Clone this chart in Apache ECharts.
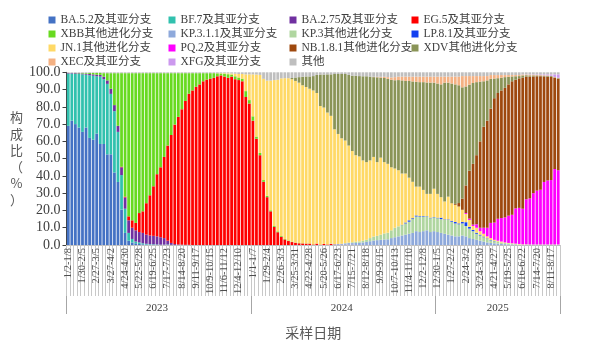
<!DOCTYPE html>
<html><head><meta charset="utf-8">
<script src="https://cdn.jsdelivr.net/npm/echarts@6/dist/echarts.min.js"></script>
<style>html,body{margin:0;padding:0;background:#fff}#c{width:600px;height:345px}</style>
</head><body><div id="c"></div>
<script>
// tick labels shown on the category axis (every 4th week)
const tickLabels = [
 '1/2-1/8','1/30-2/5','2/27-3/5','3/27-4/2','4/24-4/30','5/22-5/28','6/19-6/25','7/17-7/23','8/14-8/20','9/11-9/17','10/9-10/15','11/6-11/12','12/4-12/10',
 '1/1-1/7','1/29-2/4','2/26-3/3','3/25-3/31','4/22-4/28','5/20-5/26','6/17-6/23','7/15-7/21','8/12-8/18','9/9-9/15','10/7-10/13','11/4-11/10','12/2-12/8',
 '12/30-1/5','1/27-2/2','2/24-3/2','3/24-3/30','4/21-4/27','5/19-5/25','6/16-6/22','7/14-7/20','8/11-8/17'
];
const weekCount = 139;
const yearNames = ['2023','2024','2025'];
const yearLabelIndex = [25, 77, 121];
const yearStartIndex = [0, 52, 104];

const seriesNames = ['BA.5.2及其亚分支','BF.7及其亚分支','BA.2.75及其亚分支','EG.5及其亚分支','XBB其他进化分支',
 'KP.3.1.1及其亚分支','KP.3其他进化分支','LP.8.1及其亚分支','JN.1其他进化分支','PQ.2及其亚分支',
 'NB.1.8.1其他进化分支','XDV其他进化分支','XEC及其亚分支','XFG及其亚分支','其他'];

const ba52 = [
 69,72,70,68,65.5,68,62,61,64.5,58.5,
 58.5,52.5,52.5,42,36.5,20.5,7,2.5,1.5,1,
 0.6,0.4,0.3,0.2,0.1,0.1,0.1,0.1,0,0,
 0,0,0,0,0,0,0,0,0,0, 0,0,0,0,0,0,0,0,0,0, 0,0,0,0,0,0,0,0,0,0, 0,0,0,0,0,0,0,0,0,0,
 0,0,0,0,0,0,0,0,0,0, 0,0,0,0,0,0,0,0,0,0, 0,0,0,0,0,0,0,0,0,0, 0,0,0,0,0,0,0,0,0,0,
 0,0,0,0,0,0,0,0,0,0, 0,0,0,0,0,0,0,0,0,0, 0,0,0,0,0,0,0,0,0];
const bf7 = [
 30.3,27.3,29.1,31.0,33.3,30.6,36.3,37.0,33.2,39.0,
 37.5,40.8,35.0,35.5,29.0,20.0,14,4.5,2,1,
 0.9,0.6,0.4,0.3,0.3,0.2,0.1,0.1,0.3,0.1,
 0,0,0,0,0,0,0,0,0,0, 0,0,0,0,0,0,0,0,0,0, 0,0,0,0,0,0,0,0,0,0, 0,0,0,0,0,0,0,0,0,0,
 0,0,0,0,0,0,0,0,0,0, 0,0,0,0,0,0,0,0,0,0, 0,0,0,0,0,0,0,0,0,0, 0,0,0,0,0,0,0,0,0,0,
 0,0,0,0,0,0,0,0,0,0, 0,0,0,0,0,0,0,0,0,0, 0,0,0,0,0,0,0,0,0];
const ba275 = [
 0.3,0.3,0.4,0.4,0.5,0.6,0.7,0.8,0.9,1.0,
 1.5,2.0,3.0,3.5,3.5,4.5,6.5,7.3,6.5,6.5,
 6,6,5.3,5,4.9,4.7,4.3,3.8,2.2,1.1,
 0.5,0.3,0.2,0.1,0.1,0,0,0,0,0,
 0,0,0,0,0,0,0,0,0,0, 0,0,0,0,0,0,0,0,0,0, 0,0,0,0,0,0,0,0,0,0,
 0,0,0,0,0,0,0,0,0,0, 0,0,0,0,0,0,0,0,0,0, 0,0,0,0,0,0,0,0,0,0, 0,0,0,0,0,0,0,0,0,0,
 0,0,0,0,0,0,0,0,0,0, 0,0,0,0,0,0,0,0,0,0, 0,0,0,0,0,0,0,0,0];
const eg5 = [
 0,0,0,0,0,0,0,0,0,0,
 0,0,0,0,0,0.3,0.5,2.3,4.3,4.3,
 11,12.5,18.2,23.3,28.7,36,40.5,47,55.1,62.5,
 69.2,73.9,78.4,83.3,87.5,89.5,91.6,93.0,94.8,95.8,
 96.2,96.8,97.7,98.2,97.5,96.8,97.5,96,95.5,94.8,
 85.7,81.9,72,61.5,52,36.6,27.7,19.5,10.5,7.4,
 4.8,3.2,2.3,1.7,1.3,1.0,0.9,0.8,0.8,0.3,
 0.8,0.2,0.6,0.3,0.6,0.2,0.1,0.1,0.1,0.1,
 0.1,0,0,0,0,0,0,0,0,0,
 0,0,0,0,0,0,0,0,0,0, 0,0,0,0,0,0,0,0,0,0, 0,0,0,0,0,0,0,0,0,0, 0,0,0,0,0,0,0,0,0,0,
 0,0,0,0,0,0,0,0,0];
const xbb = [
 0,0,0.1,0.2,0.3,0.4,0.6,0.8,1.0,1.1,
 2.0,4.2,9.0,18.5,30.5,54.2,71.5,82.9,85.2,86.7,
 81,80,75.3,70.7,65.5,58.5,54.5,48.5,41.9,35.8,
 29.8,25.3,20.9,16.1,11.9,10.0,7.9,6.5,4.7,3.7,
 3.3,2.7,1.7,1.1,1.7,2.1,1.2,1.7,1.5,1.5,
 3.4,2.0,2.5,1.3,1.3,1.0,0.8,0.6,0.5,0.5,
 0.4,0.3,0.3,0.2,0.1,0.1,0.1,0.1,0.1,0.1,
 0,0,0,0,0,0,0,0,0,0, 0,0,0,0,0,0,0,0,0,0, 0,0,0,0,0,0,0,0,0,0, 0,0,0,0,0,0,0,0,0,0,
 0,0,0,0,0,0,0,0,0,0, 0,0,0,0,0,0,0,0,0,0, 0,0,0,0,0,0,0,0,0];
const kp311 = [
 0,0,0,0,0,0,0,0,0,0, 0,0,0,0,0,0,0,0,0,0, 0,0,0,0,0,0,0,0,0,0, 0,0,0,0,0,0,0,0,0,0,
 0,0,0,0,0,0,0,0,0,0, 0,0,0,0,0,0,0,0,0,0, 0,0,0,0,0,0,0,0,0,0,
 0,0,0,0,0.2,0.3,0.5,0.6,0.8,1.0,
 1.0,1.2,1.3,1.5,1.8,2.2,2.6,2.8,3.0,3.2,
 3.3,4.0,4.5,5.0,5.5,6.0,6.5,7.0,8.0,7.5,
 8.0,8.5,7.5,8.0,7.5,7.0,6.5,6.0,5.5,5.0,
 5.0,5.5,5.0,4.0,3.5,3.0,2.5,2.0,1.5,1.2,
 1.0,0.8,0.6,0.5,0.4,0.3,0.2,0.1,0.1,0.1,
 0.1,0.1,0.1,0.1,0.1,0.1,0.1,0.1,0.1];
const kp3 = [
 0,0,0,0,0,0,0,0,0,0, 0,0,0,0,0,0,0,0,0,0, 0,0,0,0,0,0,0,0,0,0, 0,0,0,0,0,0,0,0,0,0,
 0,0,0,0,0,0,0,0,0,0, 0,0,0,0,0,0,0,0,0,0, 0,0,0,0,0,0,0,0,0,0,
 0,0,0,0,0,0,0,0,0.2,0.3,
 0.5,0.7,0.8,1.0,1.2,1.8,2.3,2.5,3.0,3.5,
 3.8,4.5,5.5,5.8,6.0,6.5,7.0,8.0,8.5,9.0,
 8.5,8.0,8.0,8.0,8.0,8.0,8.0,8.5,8.0,7.5,
 7.0,7.0,6.0,5.5,4.5,3.5,3.0,2.5,2.0,1.5,
 1.2,1.0,0.8,0.6,0.5,0.4,0.3,0.2,0.1,0.1,
 0.1,0.1,0.1,0.1,0.1,0.1,0.1,0.1,0.1];
const lp81 = [
 0,0,0,0,0,0,0,0,0,0, 0,0,0,0,0,0,0,0,0,0, 0,0,0,0,0,0,0,0,0,0, 0,0,0,0,0,0,0,0,0,0,
 0,0,0,0,0,0,0,0,0,0, 0,0,0,0,0,0,0,0,0,0, 0,0,0,0,0,0,0,0,0,0, 0,0,0,0,0,0,0,0,0,0,
 0,0,0,0,0,0,0,0,0,0,
 0,0,0,0,0.2,0.5,0.8,0.5,0.6,0.3,
 0.3,0.2,0.3,0.2,0.3,0.8,0.3,0.3,0.5,0.8,
 0.5,0.8,2.2,1.0,0.8,0.6,0.5,0.4,0.3,0.2,
 0.2,0.1,0,0,0,0,0,0,0,0,
 0,0,0,0,0,0,0,0,0];
const jn1 = [
 0,0,0,0,0,0,0,0,0,0, 0,0,0,0,0,0,0,0,0,0, 0,0,0,0,0,0,0,0,0,0, 0,0,0,0,0,0,0,0,0,0,
 0,0,0.1,0.2,0.3,0.5,0.6,1.5,2.0,2.7,
 9.7,14.9,24.3,35.9,45.2,58.6,66.7,75.1,84.5,87.8,
 91.3,93.1,94.0,94.1,93.6,92.9,91.5,90.6,89.6,89.1,
 87.2,80.3,79.0,76.4,74.0,66.5,63.7,61.1,59.4,56.2,
 52.8,50.1,49.2,46.5,45.0,45.0,46.1,42.7,44.6,41.3,
 39.9,36.5,34.3,32.5,29.7,28.4,24.7,21.1,16.7,17.0,
 15.1,12.9,13.8,16.4,13.8,11.9,10.4,13.2,10.2,10.0,
 9.8,7.1,4.8,4.0,2.2,2.9,2.0,1.6,1.2,1.1,
 0.6,0.6,0.6,0.4,0.3,0.3,0.3,0.3,0.2,0.2,
 0.1,0.1,0.1,0.1,0.1,0.1,0.1,0.1,0.1];
const pq2 = [
 0,0,0,0,0,0,0,0,0,0, 0,0,0,0,0,0,0,0,0,0, 0,0,0,0,0,0,0,0,0,0, 0,0,0,0,0,0,0,0,0,0,
 0,0,0,0,0,0,0,0,0,0, 0,0,0,0,0,0,0,0,0,0, 0,0,0,0,0,0,0,0,0,0, 0,0,0,0,0,0,0,0,0,0,
 0,0,0,0,0,0,0,0,0,0, 0,0,0,0,0,0,0,0,0,0, 0,0,0,0,0,0,0,0,0,0,
 0,0,0.5,0.8,0.8,2,2,3.5,5,8.8,
 10,12.7,13.6,14.5,15.8,16.5,20.4,20.9,20.6,26.1,
 26.7,29.7,31.2,31.7,36.2,37.1,37.3,43.7,43];
const nb181 = [
 0,0,0,0,0,0,0,0,0,0, 0,0,0,0,0,0,0,0,0,0, 0,0,0,0,0,0,0,0,0,0, 0,0,0,0,0,0,0,0,0,0,
 0,0,0,0,0,0,0,0,0,0, 0,0,0,0,0,0,0,0,0,0, 0,0,0,0,0,0,0,0,0,0, 0,0,0,0,0,0,0,0,0,0,
 0,0,0,0,0,0,0,0,0,0, 0,0,0,0,0,0,0,0,0,0,
 0,0,0,0,0,0,0,0,0.1,0.5,
 2.0,6.5,16,27.7,35.2,40,50,58.5,62,66.2,
 72,72.8,73.9,75,76,77.3,74.5,75,76,71,
 70.5,67.6,66.2,65.7,61.1,60.1,59.7,52.8,52.9];
const xdv = [
 0,0,0,0,0,0,0,0,0,0, 0,0,0,0,0,0,0,0,0,0, 0,0,0,0,0,0,0,0,0,0, 0,0,0,0,0,0,0,0,0,0,
 0,0,0,0,0,0,0,0,0,0, 0,0,0,0,0,0,0,0,0,0,
 0,0,0,0.7,2.0,3.2,4.9,6.1,7.1,8.3,
 10.5,18.2,19.1,22.1,24.0,32.0,34.7,37.2,38.5,40.9,
 43.6,46.0,46.5,48.7,49.7,48.5,46.2,49.1,46.3,48.7,
 49.2,50.7,51.1,52.2,53.9,53.6,56.0,58.1,60.7,60.5,
 62.4,64.5,64.4,61.4,63.9,65.3,68.8,66.0,69.2,69.2,
 68.2,64.4,57.3,49.8,46.8,42.3,34.6,26.3,23.3,17.2,
 11.4,8.6,7.4,6.2,4.4,2.8,2.0,1.3,1.2,0.8,
 0.7,0.6,0.5,0.4,0.4,0.4,0.5,0.3,0.4];
const xec = [
 0,0,0,0,0,0,0,0,0,0, 0,0,0,0,0,0,0,0,0,0, 0,0,0,0,0,0,0,0,0,0, 0,0,0,0,0,0,0,0,0,0,
 0,0,0,0,0,0,0,0,0,0, 0,0,0,0,0,0,0,0,0,0, 0,0,0,0,0,0,0,0,0,0, 0,0,0,0,0,0,0,0,0,0,
 0,0,0,0,0,0,0.2,0.3,0.5,0.7,
 1.0,1.3,1.8,2.0,2.2,2.5,2.5,2.8,3.0,3.2,
 3.2,3.4,3.5,3.5,4.0,4.5,3.5,3.5,4.0,4.5,
 5.0,6.5,6.0,5.0,4.0,3.5,3.2,3.0,2.5,2.2,
 2.0,1.8,1.5,1.2,1.0,0.8,0.7,0.6,0.5,0.4,
 0.4,0.4,0.3,0.3,0.3,0.3,0.2,0.2,0.2];
const xfg = [
 0,0,0,0,0,0,0,0,0,0, 0,0,0,0,0,0,0,0,0,0, 0,0,0,0,0,0,0,0,0,0, 0,0,0,0,0,0,0,0,0,0,
 0,0,0,0,0,0,0,0,0,0, 0,0,0,0,0,0,0,0,0,0, 0,0,0,0,0,0,0,0,0,0, 0,0,0,0,0,0,0,0,0,0,
 0,0,0,0,0,0,0,0,0,0, 0,0,0,0,0,0,0,0,0,0, 0,0,0,0,0,0,0,0,0,0, 0,0,0,0,0,0,0,0,0,0,
 0,0,0,0,0,0,0,0,0.1,0.1,
 0.2,0.2,0.3,0.4,0.5,0.6,0.8,1.5,2.0];
const other = [
 0.4,0.4,0.4,0.4,0.4,0.4,0.4,0.4,0.4,0.4,
 0.5,0.5,0.5,0.5,0.5,0.5,0.5,0.5,0.5,0.5,
 0.5,0.5,0.5,0.5,0.5,0.5,0.5,0.5,0.5,0.5,
 0.5,0.5,0.5,0.5,0.5,0.5,0.5,0.5,0.5,0.5,
 0.5,0.5,0.5,0.5,0.5,0.6,0.7,0.8,1.0,1.0,
 1.2,1.2,1.2,1.3,1.5,3.8,4.8,4.8,4.5,4.3,
 3.5,3.4,3.4,3.3,3.0,2.8,2.6,2.4,2.4,2.2,
 1.5,1.3,1.3,1.2,1.2,1.0,1.0,1.0,1.0,1.5,
 2.0,2.0,2.2,2.3,2.3,2.5,2.6,2.6,2.6,2.6,
 2.8,3.0,2.8,2.5,2.5,2.5,2.5,2.5,2.5,2.5,
 2.5,2.5,2.5,2.5,2.5,2.5,2.5,2.5,2.5,2.5,
 2.5,2.2,2.2,2.2,2.2,2.2,2.2,2.2,2.2,1.6,
 1.6,1.6,1.6,1.6,1.6,1.6,1.6,1.6,1.2,1.2,
 1.2,1.2,1.2,1.2,1.2,1.2,1.2,1.2,1.2];

const seriesData = [ba52, bf7, ba275, eg5, xbb, kp311, kp3, lp81, jn1, pq2, nb181, xdv, xec, xfg, other];
const colors = ['#4472C4','#31C1AE','#7030A0','#FF0000','#68DA20','#8EA9DB','#B0D6A0','#1340F0',
 '#FFD966','#FF00FF','#9E480E','#8A9457','#F4B183','#CC99EE','#BFBFBF'];

const legendCols = [
 ['BA.5.2及其亚分支','XBB其他进化分支','JN.1其他进化分支','XEC及其亚分支'],
 ['BF.7及其亚分支','KP.3.1.1及其亚分支','PQ.2及其亚分支','XFG及其亚分支'],
 ['BA.2.75及其亚分支','KP.3其他进化分支','NB.1.8.1其他进化分支','其他'],
 ['EG.5及其亚分支','LP.8.1及其亚分支','XDV其他进化分支']
];
const legendLeft = [43.5, 163.5, 284.5, 406.5];

const FONT = "'Liberation Serif', 'Noto Sans CJK SC', serif";
const categories = [];
for (let i = 0; i < weekCount; i++) {
  categories.push(i % 4 === 0 ? tickLabels[i / 4] : tickLabels[Math.floor(i / 4)] + '#' + (i % 4));
}

const chart = echarts.init(document.getElementById('c'), null, {renderer: 'canvas'});
const option = {
  animation: false,
  backgroundColor: '#fff',
  textStyle: {fontFamily: FONT},
  legend: legendCols.map((col, k) => ({
    data: col, orient: 'vertical', left: legendLeft[k], top: 8,
    itemWidth: 7, itemHeight: 7, itemGap: 0, icon: 'rect', selectedMode: false,
    textStyle: {fontSize: 11.5, lineHeight: 14, color: '#404040', fontFamily: FONT}
  })),
  grid: {left: 66.5, right: 40, top: 72.3, bottom: 98, containLabel: false},
  xAxis: [{
    type: 'category', data: categories, position: 'bottom',
    axisLine: {show: true, lineStyle: {color: '#bfbfbf', width: 1}},
    axisTick: {show: true, interval: 0, length: 51, lineStyle: {color: '#c8c8c8', width: 1}},
    axisLabel: {interval: 3, rotate: 90, fontSize: 10.5, color: '#4d4d4d', margin: 3, fontFamily: FONT},
    splitLine: {show: false}
  }, {
    type: 'category', data: categories, position: 'bottom', offset: 51,
    axisLine: {show: false},
    axisTick: {show: true, length: 18, lineStyle: {color: '#a6a6a6', width: 1},
      interval: (i) => yearStartIndex.indexOf(i) >= 0},
    axisLabel: {show: true, fontSize: 11, color: '#404040', margin: 7, fontFamily: FONT,
      interval: (i) => yearLabelIndex.indexOf(i) >= 0,
      formatter: (v, i) => { const k = yearLabelIndex.indexOf(categories.indexOf(v)); return k >= 0 ? yearNames[k] : ''; }},
    name: '采样日期', nameLocation: 'middle', nameGap: 30,
    nameTextStyle: {fontSize: 14, color: '#595959', fontFamily: "'Noto Sans CJK SC', sans-serif"}
  }],
  yAxis: {
    type: 'value', min: 0, max: 100, interval: 10,
    axisLine: {show: true, lineStyle: {color: '#404040', width: 1}},
    axisTick: {show: true, length: 4, lineStyle: {color: '#404040'}},
    axisLabel: {formatter: (v) => v.toFixed(1), fontSize: 14, color: '#404040', margin: 6, fontFamily: FONT},
    splitLine: {show: false},
    name: '构\n成\n比\n（\n%\n）', nameLocation: 'middle', nameGap: 38.5, nameRotate: 0,
    nameTextStyle: {fontSize: 13, lineHeight: 16.5, color: '#595959', align: 'center', verticalAlign: 'middle',
      fontFamily: "'Noto Sans CJK SC', sans-serif"}
  },
  series: seriesNames.map((n, k) => ({
    name: n, type: 'bar', stack: 'total', data: seriesData[k], xAxisIndex: 0,
    barCategoryGap: '22%', itemStyle: {color: colors[k]}, emphasis: {disabled: true}
  }))
};
chart.setOption(option);
</script>
</body></html>
